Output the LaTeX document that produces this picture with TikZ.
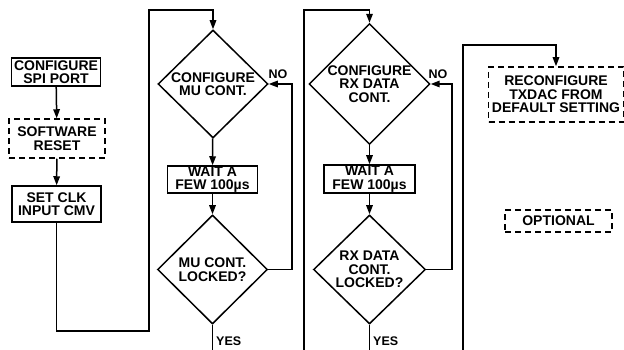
\documentclass[tikz,border=0pt]{standalone}
\usepackage{fontspec}
\setmainfont{Liberation Sans}
\usetikzlibrary{shapes.geometric,arrows.meta}
\begin{document}
\begin{tikzpicture}[x=1pt,y=-1pt,
  every node/.style={font=\bfseries\fontsize{14}{13.5}\selectfont,align=center,inner sep=0pt},
  line/.style={line width=1.5pt},
  arr/.style={line width=1.5pt,-{Triangle[length=9pt,width=6.5pt]}},
  box/.style={draw,line width=1.5pt,rectangle},
  dbox/.style={draw,line width=1.5pt,rectangle,dash pattern=on 6pt off 4pt},
  dia/.style={draw,line width=1.5pt,diamond,minimum width=110pt,minimum height=108pt},
  lbl/.style={font=\bfseries\fontsize{12.5}{12.5}\selectfont}]
\useasboundingbox (0,0) rectangle (624,350);
\node[box,minimum width=89pt,minimum height=28pt] (spi) at (56,72) {CONFIGURE\\SPI PORT};
\node[dbox,minimum width=96pt,minimum height=39pt] (reset) at (57,138.5) {SOFTWARE\\RESET};
\node[box,minimum width=89pt,minimum height=36pt] (clk) at (56.5,204) {SET CLK\\INPUT CMV};
\node[dia] (d1) at (213,84) {CONFIGURE\\MU CONT.};
\node[box,minimum width=90pt,minimum height=27pt] (w1) at (212.5,179.5) {WAIT A\\FEW 100µs};
\node[dia,minimum height=109pt] (d2) at (212.5,269.5) {MU CONT.\\LOCKED?};
\node[dia,minimum width=112pt] (d3) at (369.5,84) {CONFIGURE\\RX DATA\\CONT.};
\node[box,minimum width=91pt,minimum height=28pt] (w2) at (369.5,179) {WAIT A\\FEW 100µs};
\node[dia,minimum width=112pt,minimum height=109pt] (d4) at (369.5,269.5) {RX DATA\\CONT.\\LOCKED?};
\node[dbox,minimum width=135pt,minimum height=55pt] (tx) at (556,94.5) {RECONFIGURE\\TXDAC FROM\\DEFAULT SETTING};
\node[dbox,minimum width=107pt,minimum height=22pt] (opt) at (558.5,221) {OPTIONAL};
\node[lbl] (no1) at (278,74) {NO};
\node[lbl] (no2) at (438,74) {NO};
\node[lbl,anchor=west] (yes1) at (216,341) {YES};
\node[lbl,anchor=west] (yes2) at (373,341) {YES};
\coordinate (e1) at (212.5,350);
\coordinate (e2) at (369.5,350);
\coordinate (s2) at (304,350);
\coordinate (s3) at (463,350);
\draw[arr] (spi) -- (reset);
\draw[arr] (reset) -- (clk);
\draw[arr] (clk.south) -- (clk.south |- 0,331) -- (149,331) -- (149,10) -- (d1.north |- 0,10) -- (d1.north);
\draw[arr] (d1) -- (w1);
\draw[arr] (w1) -- (d2);
\draw[line] (d2.south) -- (e1);
\draw[arr] (d2.east) -- (292,269.5) -- (292,84) -- (d1.east);
\draw[arr] (s2) -- (304,10) -- (d3.north |- 0,10) -- (d3.north);
\draw[arr] (d3) -- (w2);
\draw[arr] (w2) -- (d4);
\draw[line] (d4.south) -- (e2);
\draw[arr] (d4.east) -- (452,269.5) -- (452,84) -- (d3.east);
\draw[arr] (s3) -- (463,45) -- (tx.north |- 0,45) -- (tx.north);
\end{tikzpicture}
\end{document}
